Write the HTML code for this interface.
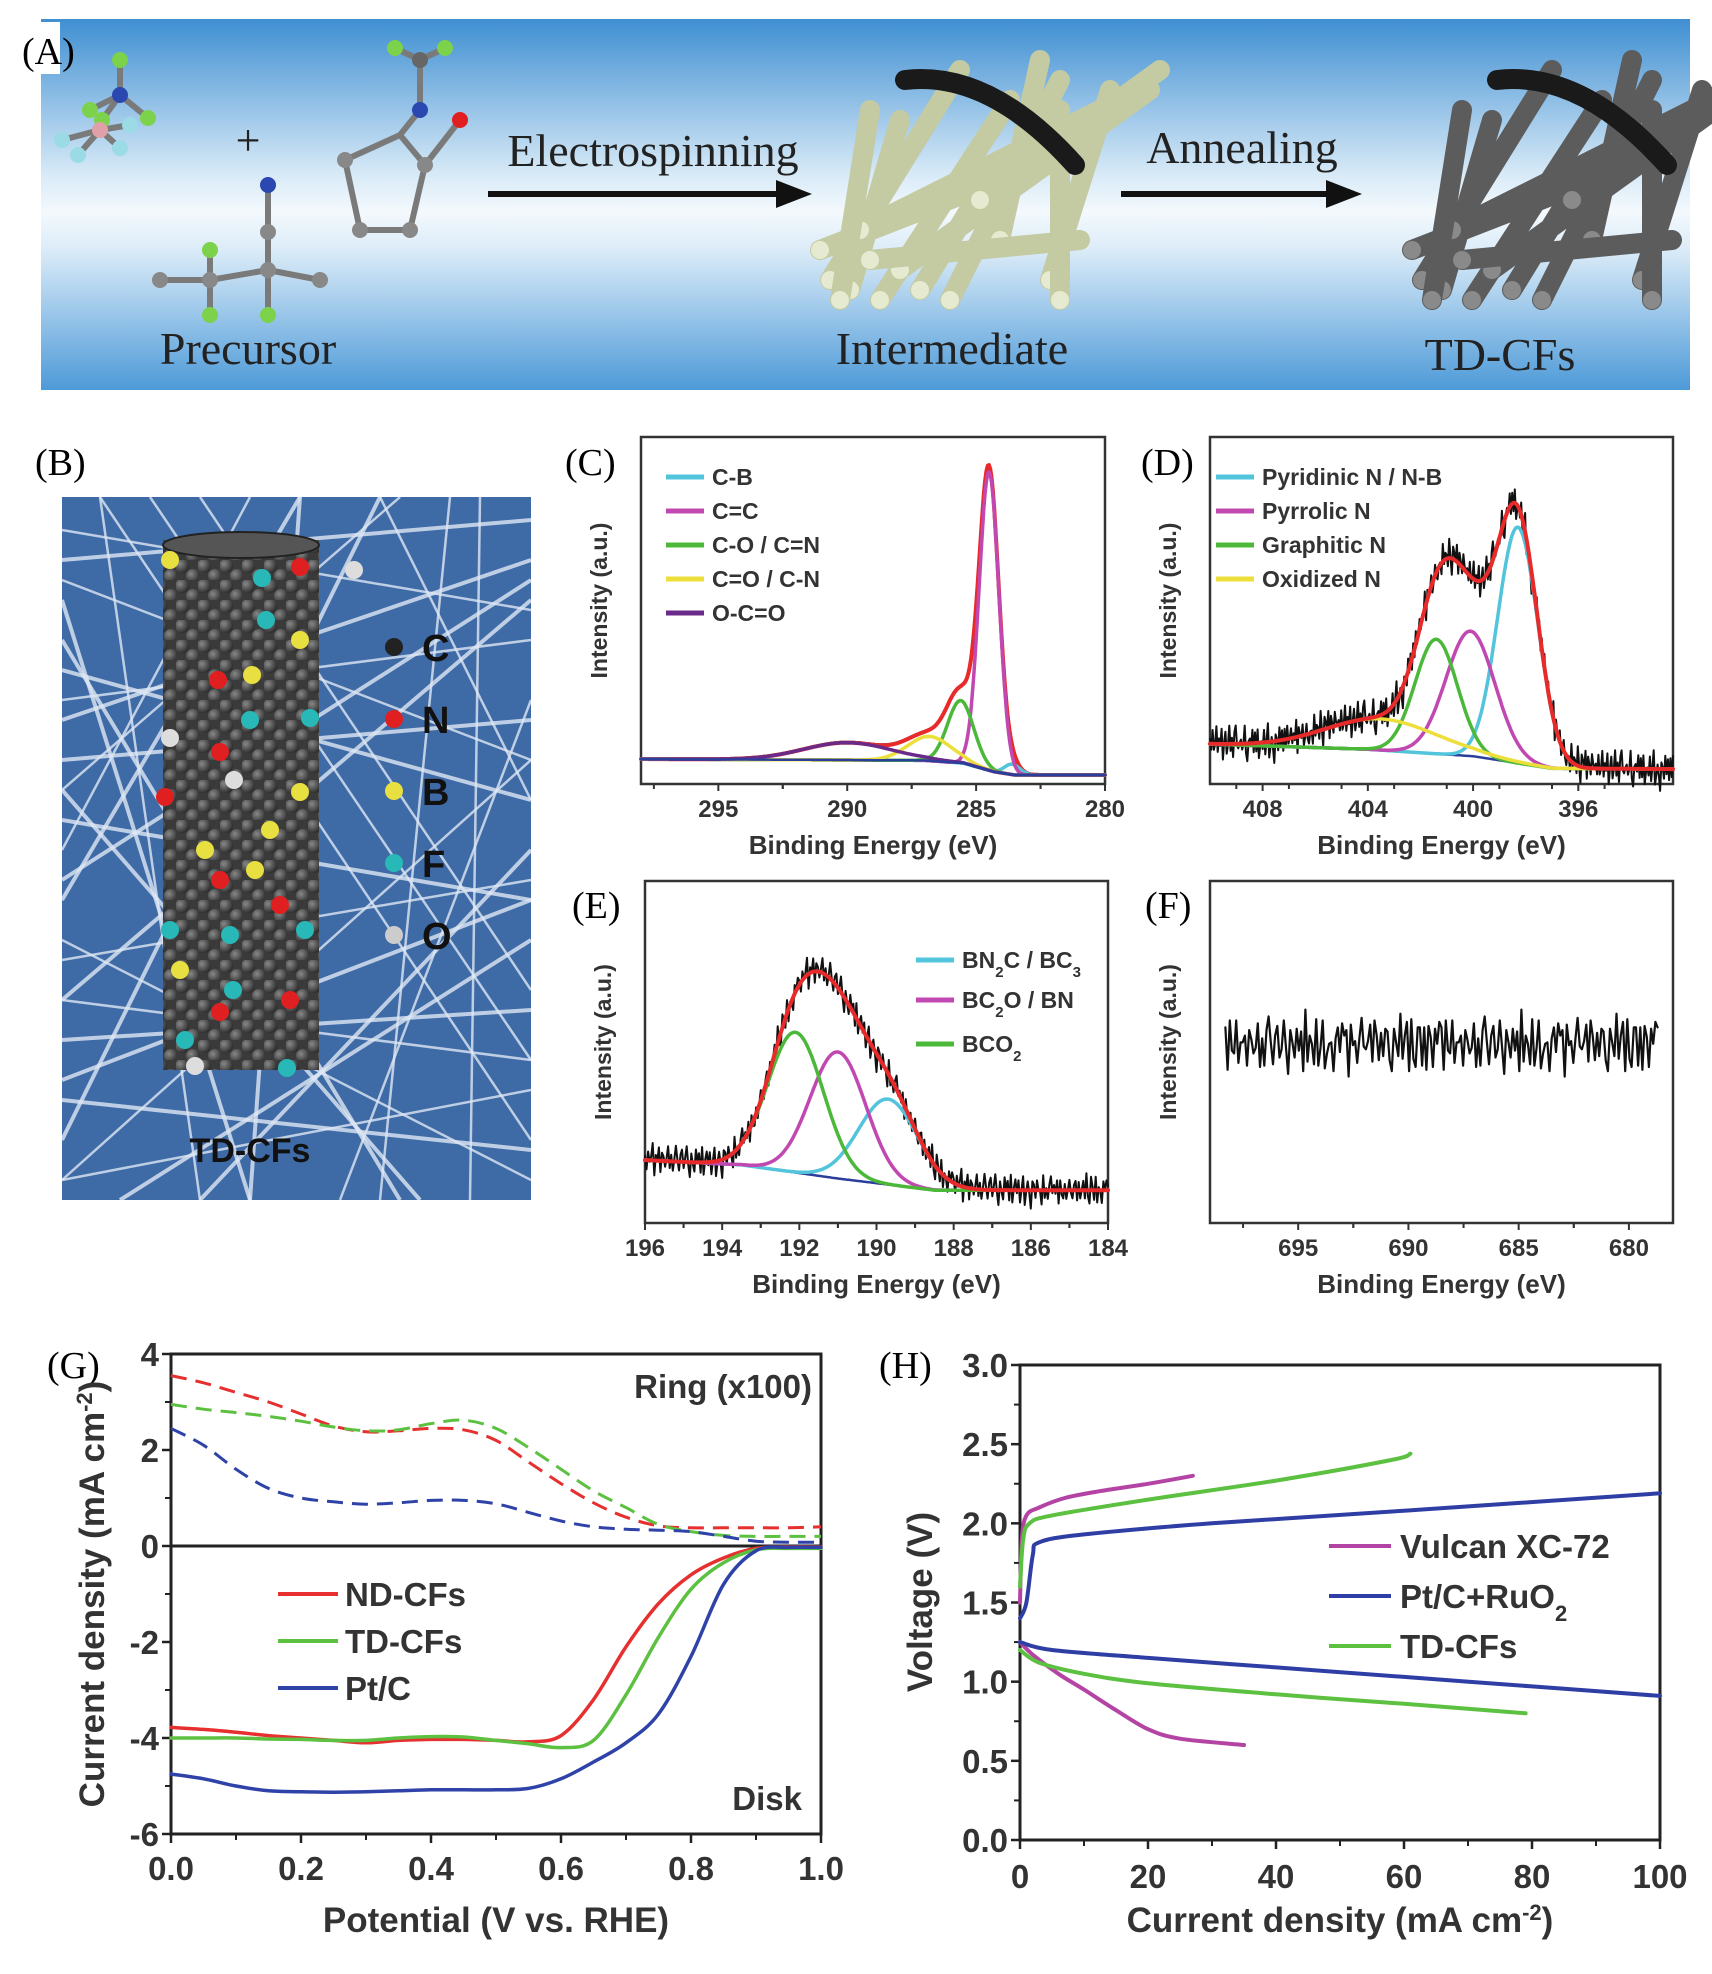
<!DOCTYPE html>
<html><head><meta charset="utf-8"><style>
html,body{margin:0;padding:0;background:#fff;}
body{width:1712px;height:1969px;overflow:hidden;}
svg text{font-family:"Liberation Sans",sans-serif;}
.ser{font-family:"Liberation Serif",serif;}
</style></head><body>
<svg id="fig" width="1712" height="1969" viewBox="0 0 1712 1969" xmlns="http://www.w3.org/2000/svg">
<defs>
<linearGradient id="skyA" x1="0" y1="0" x2="0" y2="1">
<stop offset="0" stop-color="#3f8fd2"/><stop offset="0.42" stop-color="#d8eaf7"/><stop offset="0.52" stop-color="#f4f9fd"/><stop offset="0.62" stop-color="#dcecf8"/><stop offset="1" stop-color="#4d9ad8"/>
</linearGradient>
<radialGradient id="ballC" cx="0.35" cy="0.35" r="0.7"><stop offset="0" stop-color="#888"/><stop offset="1" stop-color="#2a2a2a"/></radialGradient>
<pattern id="atoms" x="0" y="0" width="22" height="20" patternUnits="userSpaceOnUse">
<rect width="22" height="20" fill="#3a3a3a"/><circle cx="6" cy="6" r="7" fill="url(#ballC)"/><circle cx="17" cy="16" r="7" fill="url(#ballC)"/>
</pattern>
</defs>
<g id="panelA">
<rect x="41" y="19" width="1649" height="371" fill="url(#skyA)"/>
<rect x="18" y="22" width="42" height="52" fill="#fff"/>
<text class="ser" x="22" y="64" font-size="38">(A)</text>
<g id="mols"></g>
<text class="ser" x="248" y="364" font-size="46" text-anchor="middle" fill="#222">Precursor</text>
<text class="ser" x="248" y="155" font-size="44" text-anchor="middle" fill="#222">+</text>
<text class="ser" x="653" y="166" font-size="46" text-anchor="middle" fill="#222">Electrospinning</text>
<line x1="488" y1="194" x2="780" y2="194" stroke="#111" stroke-width="6"/>
<polygon points="776,180 812,194 776,208" fill="#111"/>
<g id="fibInt"></g>
<text class="ser" x="952" y="364" font-size="46" text-anchor="middle" fill="#222">Intermediate</text>
<text class="ser" x="1242" y="163" font-size="46" text-anchor="middle" fill="#222">Annealing</text>
<line x1="1121" y1="194" x2="1330" y2="194" stroke="#111" stroke-width="6"/>
<polygon points="1326,180 1362,194 1326,208" fill="#111"/>
<g id="fibTD"></g>
<text class="ser" x="1500" y="370" font-size="46" text-anchor="middle" fill="#222">TD-CFs</text>
</g>
<g id="panelB">
<text class="ser" x="35" y="475" font-size="38">(B)</text>
<clipPath id="clipB"><rect x="62" y="497" width="469" height="703"/></clipPath>
<g clip-path="url(#clipB)">
<rect x="62" y="497" width="469" height="703" fill="#3e6aa6"/>
<g id="mat"></g>
</g>
<rect x="163" y="540" width="156" height="530" fill="url(#atoms)"/>
<ellipse cx="241" cy="545" rx="78" ry="13" fill="#555" stroke="#222" stroke-width="2"/>
<g id="dopants"></g>
<g id="elemLegend"></g>
<text x="250" y="1162" font-size="34" font-weight="bold" text-anchor="middle" fill="#111">TD-CFs</text>
</g>
<g id="charts"></g>
</svg>
<script>
// ===== Panel C data =====
const cTicks=[295,290,285,280];
const cNames=['C-B','C=C','C-O / C=N','C=O / C-N','O-C=O'];
const cCenters=[283.6,284.5,285.6,286.8,290.0];
const cHeights=[3,86,18,7,5];
const cWidths=[0.7,0.9,1.2,2.0,4.0];
const cBgX=[298,287,285.5,284.3,283.5,280];
const cBgY=[7.2,6.8,6.0,3.5,2.6,2.6];
// ===== Panel D data =====
const dTicks=[408,404,400,396];
const dNames=['Pyridinic N / N-B','Pyrrolic N','Graphitic N','Oxidized N'];
const dCenters=[398.3,400.1,401.4,403.5];
const dHeights=[68,36,33,9];
const dWidths=[1.8,2.2,1.9,5.0];
const dBgX=[410,404,400,397,392.4];
const dBgY=[11.5,10,8,4.5,4.3];
// ===== Panel E data =====
const eTicks=[196,194,192,190,188,186,184];
const eCenters=[189.7,191.0,192.1];
const eHeights=[25,37,41];
const eWidths=[1.8,1.7,1.7];
const eBgX=[196,193.5,191,188.5,184];
const eBgY=[18.4,17,13,9.6,9.6];
// ===== Panel F data =====
const fTicks=[695,690,685,680];
const fLevel=52;
// measured noise pattern (shared by raw spectra)
const noise=[0.2,-0.5,0.8,-0.3,0.1,0.9,-0.7,0.4,-0.2,0.6,-0.9,0.3,0.5,-0.4,0.0,0.7,-0.6,0.2,-0.8,0.4,0.9,-0.1,-0.5,0.3,0.6,-0.7,0.1,0.8,-0.3,-0.9,0.5,0.2,-0.4,0.7,-0.2,0.3,-0.6,0.9,-0.8,0.1,0.4,-0.3,0.6,-0.5,0.2,0.8,-0.7,0.0,0.5,-0.2,-0.9,0.7,0.3,-0.4,0.6,-0.1,0.2,-0.8,0.9,-0.3,0.4,-0.6,0.1,0.7,-0.5,0.3,-0.2,0.8,-0.9,0.5,0.0,-0.4,0.6,-0.7,0.2,0.9,-0.1,-0.6,0.4,0.3,-0.8,0.7,-0.3,0.1,0.5,-0.5,0.8,-0.2,-0.7,0.6,0.2,-0.4,0.9,-0.9,0.3,0.1,-0.6,0.7,-0.1,0.4];
// ===== Panel G data =====
const gPotential=[0,0.05,0.1,0.15,0.2,0.25,0.3,0.35,0.4,0.45,0.5,0.55,0.6,0.65,0.7,0.75,0.8,0.85,0.9,0.95,1.0];
const gRingND=[3.55,3.4,3.2,3.0,2.75,2.5,2.38,2.4,2.45,2.42,2.2,1.75,1.3,0.9,0.6,0.42,0.38,0.38,0.38,0.38,0.4];
const gRingTD=[2.95,2.85,2.78,2.7,2.6,2.48,2.4,2.42,2.55,2.62,2.45,2.05,1.6,1.15,0.8,0.45,0.3,0.22,0.2,0.2,0.2];
const gRingPt=[2.45,2.1,1.6,1.2,1.0,0.92,0.87,0.9,0.95,0.95,0.88,0.7,0.52,0.4,0.35,0.33,0.3,0.2,0.1,0.08,0.08];
const gDiskND=[-3.78,-3.82,-3.88,-3.95,-4.0,-4.05,-4.1,-4.05,-4.03,-4.03,-4.05,-4.08,-3.95,-3.2,-2.1,-1.2,-0.6,-0.25,-0.05,-0.02,-0.02];
const gDiskTD=[-4.0,-4.0,-4.0,-4.02,-4.03,-4.05,-4.05,-4.0,-3.97,-3.98,-4.05,-4.12,-4.2,-4.05,-3.1,-1.9,-0.9,-0.35,-0.08,-0.05,-0.05];
const gDiskPt=[-4.75,-4.85,-5.0,-5.1,-5.12,-5.13,-5.12,-5.1,-5.08,-5.08,-5.08,-5.05,-4.85,-4.5,-4.1,-3.5,-2.3,-0.8,-0.1,-0.03,-0.03];
const gXTicks=[0,0.2,0.4,0.6,0.8,1.0];
const gYTicks=[4,2,0,-2,-4,-6];
const gLegend=['ND-CFs','TD-CFs','Pt/C'];
// ===== Panel H data =====
const hVulcanChgI=[0,0.3,1,3,7,12,20,27];
const hVulcanChgV=[1.5,1.9,2.05,2.1,2.16,2.2,2.25,2.3];
const hVulcanDisI=[0,2,6,10,15,20,25,35];
const hVulcanDisV=[1.25,1.17,1.05,0.95,0.82,0.7,0.64,0.6];
const hPtChgI=[0,1,2,3,10,30,60,100];
const hPtChgV=[1.4,1.5,1.8,1.88,1.93,2.0,2.08,2.19];
const hPtDisI=[0,5,20,40,60,80,100];
const hPtDisV=[1.25,1.2,1.15,1.09,1.03,0.97,0.91];
const hTDChgI=[0,0.5,1.5,5,20,40,58,61];
const hTDChgV=[1.6,1.9,2.0,2.05,2.15,2.27,2.4,2.44];
const hTDDisI=[0,3,10,20,40,60,79];
const hTDDisV=[1.2,1.12,1.05,0.99,0.92,0.86,0.8];
const hXTicks=[0,20,40,60,80,100];
const hYTicks=[0.0,0.5,1.0,1.5,2.0,2.5,3.0];

const NS='http://www.w3.org/2000/svg';
const root=document.getElementById('charts');
function mk(tag,attrs,parent){const e=document.createElementNS(NS,tag);for(const k in attrs)e.setAttribute(k,attrs[k]);(parent||root).appendChild(e);return e;}
function txt(s,attrs,parent,name){const e=mk('text',attrs,parent);e.textContent=s;

return e;}
function gauss(x,c,h,w){return h*Math.exp(-4*Math.LN2*(x-c)*(x-c)/(w*w));}
function interp(x,xs,ys){
  for(let i=0;i<xs.length-1;i++){const a=xs[i],b=xs[i+1];if((x<=a&&x>=b)||(x>=a&&x<=b)){const t=(x-a)/(b-a);return ys[i]+t*(ys[i+1]-ys[i]);}}
  return (Math.abs(x-xs[0])<Math.abs(x-xs[xs.length-1]))?ys[0]:ys[ys.length-1];}
function smooth(pts){let d='M'+pts[0][0].toFixed(1)+','+pts[0][1].toFixed(1);
  for(let i=0;i<pts.length-1;i++){const p0=pts[Math.max(0,i-1)],p1=pts[i],p2=pts[i+1],p3=pts[Math.min(pts.length-1,i+2)];
  const c1=[p1[0]+(p2[0]-p0[0])/6,p1[1]+(p2[1]-p0[1])/6],c2=[p2[0]-(p3[0]-p1[0])/6,p2[1]-(p3[1]-p1[1])/6];
  d+=' C'+c1[0].toFixed(1)+','+c1[1].toFixed(1)+' '+c2[0].toFixed(1)+','+c2[1].toFixed(1)+' '+p2[0].toFixed(1)+','+p2[1].toFixed(1);}return d;}
function poly(pts){return 'M'+pts.map(p=>p[0].toFixed(1)+','+p[1].toFixed(1)).join(' L');}

const COL={cyan:'#52c4dc',mag:'#c048b0',green:'#4cb83a',yellow:'#ecdf3c',purple:'#6a2a8a',red:'#e82a2a',blue:'#2c3e9c'};

function xpsFrame(o){
  const g=mk('g',{});
  
  
  const X=e=>o.L+(o.xmin-e)/(o.xmin-o.xmax)*(o.R-o.L);
  const Y=v=>o.B-v/100*(o.B-o.T);
  txt(o.label,{x:o.lx,y:o.ly,'font-size':38,class:'ser'},g,'panel-label');
  const fr=mk('rect',{x:o.L,y:o.T,width:o.R-o.L,height:o.B-o.T,fill:'none',stroke:'#333','stroke-width':2.5},g);
  
  
  o.ticks.forEach(t=>{const x=X(t);
    const tk=mk('line',{x1:x,y1:o.B,x2:x,y2:o.B+7,stroke:'#333','stroke-width':2},g);
    
    
    txt(String(t),{x:x,y:o.B+33,'font-size':24,'font-weight':'bold','text-anchor':'middle',fill:'#333'},g,'x-tick-label');
    const h=x+(X(t+o.step)-x)/2; if(h>o.L&&h<o.R){const m=mk('line',{x1:h,y1:o.B,x2:h,y2:o.B+5,stroke:'#333','stroke-width':2},g);
    
    }
    const h2=x-(X(t+o.step)-x)/2; if(h2>o.L&&h2<o.R){const m=mk('line',{x1:h2,y1:o.B,x2:h2,y2:o.B+5,stroke:'#333','stroke-width':2},g);
    
    }
  });
  txt('Binding Energy (eV)',{x:(o.L+o.R)/2,y:o.B+70,'font-size':26,'font-weight':'bold','text-anchor':'middle',fill:'#333'},g,'x-axis-title');
  txt('Intensity (a.u.)',{x:0,y:0,'font-size':23,'font-weight':'bold','text-anchor':'middle',fill:'#333',transform:'translate('+(o.L-34)+','+((o.T+o.B)/2-10)+') rotate(-90)'},g,'y-axis-title');
  return {g,X,Y};
}
function legendEntry(g,x,y,color,label){
  const l=mk('line',{x1:x,y1:y,x2:x+38,y2:y,stroke:color,'stroke-width':5},g);
  
  
  const t=mk('text',{x:x+46,y:y+8,'font-size':23,'font-weight':'bold',fill:'#333'},g);
  
  
  label.forEach(part=>{const s=mk('tspan',{},t);s.textContent=part[0];if(part[1]){s.setAttribute('baseline-shift','sub');s.setAttribute('font-size','15');}});
}
function drawPath(g,d,color,w,name,extra){
  const p=mk('path',Object.assign({d:d,fill:'none',stroke:color,'stroke-width':w,'stroke-linejoin':'round','stroke-linecap':'round'},extra||{}),g);
  
  
  return p;
}

// ---------- C ----------
(function(){
  const o={name:'panel-c-c1s-xps',label:'(C)',lx:565,ly:475,L:641,R:1105,T:437,B:784,xmin:298,xmax:280,ticks:cTicks,step:-5};
  const f=xpsFrame(o);const N=360;const bgP=[],env=[],comps=cCenters.map(()=>[]);
  for(let i=0;i<=N;i++){const e=o.xmin+(o.xmax-o.xmin)*i/N;const bg=interp(e,cBgX,cBgY);let s=bg;
    cCenters.forEach((c,k)=>{const v=gauss(e,c,cHeights[k],cWidths[k]);s+=v;comps[k].push([f.X(e),f.Y(bg+v)]);});
    bgP.push([f.X(e),f.Y(bg)]);env.push([f.X(e),f.Y(s)]);}
  drawPath(f.g,poly(env.map(p=>[p[0],p[1]-1])),'#111',2,'raw-spectrum');
  drawPath(f.g,poly(env),COL.red,4,'fit-envelope');
  const cc=[COL.cyan,COL.mag,COL.green,COL.yellow,COL.purple];
  comps.forEach((pts,k)=>drawPath(f.g,poly(pts),cc[k],3.5,'component-'+k));
  drawPath(f.g,poly(bgP),COL.blue,2.5,'background');
  cNames.forEach((n,k)=>legendEntry(f.g,666,477+k*34,cc[k],[[n]]));
})();
// ---------- D ----------
(function(){
  const o={name:'panel-d-n1s-xps',label:'(D)',lx:1141,ly:475,L:1210,R:1673,T:437,B:784,xmin:410,xmax:392.4,ticks:dTicks,step:-2};
  const f=xpsFrame(o);const N=360;const bgP=[],env=[],raw=[],comps=dCenters.map(()=>[]);
  for(let i=0;i<=N;i++){const e=o.xmin+(o.xmax-o.xmin)*i/N;const bg=interp(e,dBgX,dBgY);let s=bg;
    dCenters.forEach((c,k)=>{const v=gauss(e,c,dHeights[k],dWidths[k]);s+=v;comps[k].push([f.X(e),f.Y(bg+v)]);});
    bgP.push([f.X(e),f.Y(bg)]);env.push([f.X(e),f.Y(s)]);
    raw.push([f.X(e),f.Y(s+noise[i%noise.length]*5+noise[(i*7)%noise.length]*2)]);}
  drawPath(f.g,poly(raw),'#111',2,'raw-spectrum');
  const cc=[COL.cyan,COL.mag,COL.green,COL.yellow];
  drawPath(f.g,poly(bgP),COL.blue,2.5,'background');
  comps.forEach((pts,k)=>drawPath(f.g,poly(pts),cc[k],3.5,'component-'+k));
  drawPath(f.g,poly(env),COL.red,4,'fit-envelope');
  dNames.forEach((n,k)=>legendEntry(f.g,1216,477+k*34,cc[k],[[n]]));
})();
// ---------- E ----------
(function(){
  const o={name:'panel-e-b1s-xps',label:'(E)',lx:572,ly:918,L:645,R:1108,T:881,B:1223,xmin:196,xmax:184,ticks:eTicks,step:-2};
  const f=xpsFrame(o);const N=300;const bgP=[],env=[],raw=[],comps=eCenters.map(()=>[]);
  for(let i=0;i<=N;i++){const e=o.xmin+(o.xmax-o.xmin)*i/N;const bg=interp(e,eBgX,eBgY);let s=bg;
    eCenters.forEach((c,k)=>{const v=gauss(e,c,eHeights[k],eWidths[k]);s+=v;comps[k].push([f.X(e),f.Y(bg+v)]);});
    bgP.push([f.X(e),f.Y(bg)]);env.push([f.X(e),f.Y(s)]);
    raw.push([f.X(e),f.Y(s+noise[i%noise.length]*4.5+noise[(i*3)%noise.length]*1.5)]);}
  drawPath(f.g,poly(raw),'#111',2,'raw-spectrum');
  drawPath(f.g,poly(bgP),COL.blue,2.5,'background');
  const cc=[COL.cyan,COL.mag,COL.green];
  comps.forEach((pts,k)=>drawPath(f.g,poly(pts),cc[k],3.5,'component-'+k));
  drawPath(f.g,poly(env),COL.red,4,'fit-envelope');
  legendEntry(f.g,916,960,cc[0],[['BN'],['2',1],['C / BC'],['3',1]]);
  legendEntry(f.g,916,1000,cc[1],[['BC'],['2',1],['O / BN']]);
  legendEntry(f.g,916,1044,cc[2],[['BCO'],['2',1]]);
})();
// ---------- F ----------
(function(){
  const o={name:'panel-f-f1s-xps',label:'(F)',lx:1145,ly:918,L:1210,R:1673,T:881,B:1223,xmin:699,xmax:678,ticks:fTicks,step:-5};
  const f=xpsFrame(o);const raw=[];const N=200;
  for(let i=0;i<=N;i++){const e=698.3+(678.7-698.3)*i/N;
    raw.push([f.X(e),f.Y(fLevel+noise[i%noise.length]*8+noise[(i*13+5)%noise.length]*4)]);}
  drawPath(f.g,poly(raw),'#111',2.2,'raw-spectrum');
})();
// ---------- G ----------
(function(){
  const g=mk('g',{});
  
  
  const L=171,R=821,T=1354,B=1834;
  const X=v=>L+v*(R-L),Y=v=>T+(4-v)/10*(B-T);
  txt('(G)',{x:47,y:1378,'font-size':38,class:'ser'},g,'panel-label-g');
  const fr=mk('rect',{x:L,y:T,width:R-L,height:B-T,fill:'none',stroke:'#222','stroke-width':3},g);
  
  
  const z=mk('line',{x1:L,y1:Y(0),x2:R,y2:Y(0),stroke:'#222','stroke-width':3},g);
  
  
  gXTicks.forEach(t=>{const tk=mk('line',{x1:X(t),y1:B,x2:X(t),y2:B+9,stroke:'#222','stroke-width':2.5},g);
    
    
    if(t<1){const m=mk('line',{x1:X(t+0.1),y1:B,x2:X(t+0.1),y2:B+6,stroke:'#222','stroke-width':2},g);
    
    }
    txt(t.toFixed(1),{x:X(t),y:B+46,'font-size':33,'font-weight':'bold','text-anchor':'middle',fill:'#333'},g,'x-tick-label');});
  gYTicks.forEach(t=>{const tk=mk('line',{x1:L-9,y1:Y(t),x2:L,y2:Y(t),stroke:'#222','stroke-width':2.5},g);
    
    
    if(t>-6){const m=mk('line',{x1:L-6,y1:Y(t-1),x2:L,y2:Y(t-1),stroke:'#222','stroke-width':2},g);
    
    }
    txt(String(t),{x:L-12,y:Y(t)+12,'font-size':33,'font-weight':'bold','text-anchor':'end',fill:'#333'},g,'y-tick-label');});
  txt('Potential (V vs. RHE)',{x:(L+R)/2,y:1932,'font-size':35,'font-weight':'bold','text-anchor':'middle',fill:'#333'},g,'x-axis-title');
  const yt=txt('',{x:0,y:0,'font-size':35,'font-weight':'bold','text-anchor':'middle',fill:'#333',transform:'translate(104,1594) rotate(-90)'},g,'y-axis-title');
  const a=mk('tspan',{},yt);a.textContent='Current density (mA cm';
  const b=mk('tspan',{'baseline-shift':'super','font-size':22},yt);b.textContent='-2';
  const c=mk('tspan',{},yt);c.textContent=')';
  txt('Ring (x100)',{x:812,y:1398,'font-size':33,'font-weight':'bold','text-anchor':'end',fill:'#333'},g,'ring-label');
  txt('Disk',{x:802,y:1810,'font-size':33,'font-weight':'bold','text-anchor':'end',fill:'#333'},g,'disk-label');
  const cols=['#e63030','#5cc040','#2e42a8'];
  [gRingND,gRingTD,gRingPt].forEach((s,k)=>drawPath(g,smooth(gPotential.map((p,i)=>[X(p),Y(s[i])])),cols[k],3,'ring-curve-'+k,{'stroke-dasharray':'16,9','stroke-linecap':'butt'}));
  [gDiskND,gDiskTD,gDiskPt].forEach((s,k)=>drawPath(g,smooth(gPotential.map((p,i)=>[X(p),Y(s[i])])),cols[k],3.5,'disk-curve-'+k));
  gLegend.forEach((n,k)=>{const l=mk('line',{x1:278,y1:1594+k*47,x2:338,y2:1594+k*47,stroke:cols[k],'stroke-width':4},g);
    
    
    txt(n,{x:345,y:1606+k*47,'font-size':33,'font-weight':'bold',fill:'#333'},g,'legend-label');});
})();
// ---------- H ----------
(function(){
  const g=mk('g',{});
  
  
  const L=1020,R=1660,T=1365,B=1840;
  const X=v=>L+v/100*(R-L),Y=v=>B-v/3*(B-T);
  txt('(H)',{x:879,y:1378,'font-size':38,class:'ser'},g,'panel-label-h');
  const fr=mk('rect',{x:L,y:T,width:R-L,height:B-T,fill:'none',stroke:'#222','stroke-width':3},g);
  
  
  hXTicks.forEach(t=>{const tk=mk('line',{x1:X(t),y1:B,x2:X(t),y2:B+9,stroke:'#222','stroke-width':2.5},g);
    
    
    if(t<100){const m=mk('line',{x1:X(t+10),y1:B,x2:X(t+10),y2:B+6,stroke:'#222','stroke-width':2},g);
    
    }
    txt(String(t),{x:X(t),y:B+48,'font-size':33,'font-weight':'bold','text-anchor':'middle',fill:'#333'},g,'x-tick-label');});
  hYTicks.forEach(t=>{const tk=mk('line',{x1:L-9,y1:Y(t),x2:L,y2:Y(t),stroke:'#222','stroke-width':2.5},g);
    
    
    if(t<3){const m=mk('line',{x1:L-6,y1:Y(t+0.25),x2:L,y2:Y(t+0.25),stroke:'#222','stroke-width':2},g);
    
    }
    txt(t.toFixed(1),{x:L-12,y:Y(t)+12,'font-size':33,'font-weight':'bold','text-anchor':'end',fill:'#333'},g,'y-tick-label');});
  const xt=txt('',{x:1340,y:1932,'font-size':35,'font-weight':'bold','text-anchor':'middle',fill:'#333'},g,'x-axis-title');
  const a=mk('tspan',{},xt);a.textContent='Current density (mA cm';
  const b=mk('tspan',{'baseline-shift':'super','font-size':22},xt);b.textContent='-2';
  const c=mk('tspan',{},xt);c.textContent=')';
  txt('Voltage (V)',{x:0,y:0,'font-size':35,'font-weight':'bold','text-anchor':'middle',fill:'#333',transform:'translate(932,1602) rotate(-90)'},g,'y-axis-title');
  const cols=['#b444a4','#2e3ea4','#5cc040'];
  [[hVulcanChgI,hVulcanChgV,0],[hVulcanDisI,hVulcanDisV,0],[hPtChgI,hPtChgV,1],[hPtDisI,hPtDisV,1],[hTDChgI,hTDChgV,2],[hTDDisI,hTDDisV,2]].forEach((s,k)=>
    drawPath(g,smooth(s[0].map((v,i)=>[X(v),Y(s[1][i])])),cols[s[2]],4,'polarization-curve-'+k));
  const names=[[['Vulcan XC-72']],[['Pt/C+RuO'],['2',1]],[['TD-CFs']]];
  names.forEach((n,k)=>{const y=1546+k*50;const l=mk('line',{x1:1329,y1:y,x2:1391,y2:y,stroke:cols[k],'stroke-width':4},g);
    
    
    const t=mk('text',{x:1400,y:y+12,'font-size':33,'font-weight':'bold',fill:'#333'},g);
    
    
    n.forEach(p=>{const s=mk('tspan',{},t);s.textContent=p[0];if(p[1]){s.setAttribute('baseline-shift','sub');s.setAttribute('font-size','22');}});});
})();

// ---------- Schematic decorations ----------
(function(){
  const fibers=[[830,280,960,70],[850,290,900,120],[880,300,1010,100],[820,250,1000,180],[900,270,1150,90],[950,300,1060,80],[1000,240,1040,60],[860,230,1120,100],[920,290,1000,160],[1050,280,1110,90],[980,200,1160,70],[840,300,870,110],[1060,300,1060,110],[870,260,1080,240]];
  [['fibInt',0,'#c4caa2','#e6ead0'],['fibTD',592,'#5c5c5c','#8a8a8a']].forEach(cfg=>{
    const grp=document.getElementById(cfg[0]);
    fibers.forEach(f=>{const l=mk('line',{x1:f[0]+cfg[1],y1:f[1],x2:f[2]+cfg[1],y2:f[3],stroke:cfg[2],'stroke-width':20,'stroke-linecap':'round'},grp);
      
      
      const e=mk('circle',{cx:f[0]+cfg[1],cy:f[1],r:9,fill:cfg[3]},grp);
      
      });
    const bk=mk('path',{d:'M'+(905+cfg[1])+',80 Q'+(990+cfg[1])+',70 '+(1075+cfg[1])+',165',stroke:'#1a1a1a','stroke-width':20,fill:'none','stroke-linecap':'round'},grp);
    
    
  });
  const mol=document.getElementById('mols');
  const bonds=[[120,60,120,95],[120,95,90,110],[120,95,148,118],[120,95,102,120],[62,140,100,130],[100,130,130,125],[100,130,78,155],[100,130,120,148],[420,60,420,110],[420,110,400,135],[400,135,345,160],[345,160,360,230],[360,230,410,230],[410,230,425,165],[425,165,400,135],[425,165,460,120],[268,185,268,270],[268,270,210,280],[210,280,160,280],[268,270,320,280],[210,280,210,250],[210,280,210,315],[268,270,268,315],[420,60,395,48],[420,60,445,48]];
  bonds.forEach(b=>{const l=mk('line',{x1:b[0],y1:b[1],x2:b[2],y2:b[3],stroke:'#7a7a7a','stroke-width':6},mol);
    
    });
  const atoms=[[120,60,'#7cd24a'],[120,95,'#2a48b0'],[90,110,'#7cd24a'],[148,118,'#7cd24a'],[102,120,'#7cd24a'],[62,140,'#9adbe6'],[100,130,'#e0a0a8'],[130,125,'#9adbe6'],[78,155,'#9adbe6'],[120,148,'#9adbe6'],[420,110,'#2a48b0'],[460,120,'#e02020'],[420,60,'#666'],[395,48,'#7cd24a'],[445,48,'#7cd24a'],[268,185,'#2a48b0'],[268,232,'#888'],[210,280,'#888'],[268,270,'#888'],[160,280,'#888'],[320,280,'#888'],[210,250,'#7cd24a'],[210,315,'#7cd24a'],[268,315,'#7cd24a'],[345,160,'#888'],[360,230,'#888'],[410,230,'#888'],[425,165,'#888']];
  atoms.forEach(a=>{const c=mk('circle',{cx:a[0],cy:a[1],r:8,fill:a[2]},mol);
    
    });
  const mat=document.getElementById('mat');
  const segs=[[62,560,531,520],[62,700,531,640],[62,820,531,900],[62,960,531,880],[62,1100,531,1150],[100,497,200,1200],[300,497,250,1200],[450,497,380,1200],[531,600,62,1000],[531,760,62,1180],[62,640,400,1200],[150,497,531,1060],[62,900,300,497],[531,990,200,497],[62,1040,531,1010],[380,497,531,800],[62,760,531,720],[480,497,470,1200],[62,600,250,1200],[531,1140,100,497],[62,880,531,580],[62,1180,531,1090],[200,1200,531,850],[62,530,531,610],[62,670,531,800],[62,790,400,497],[120,1200,531,940],[62,1000,531,1060],[62,1140,380,497],[340,1200,531,700],[62,720,531,560],[250,497,62,850],[531,900,62,1080],[62,580,531,760],[420,1200,62,790],[531,1180,62,940]];
  segs.forEach((s,i)=>{const l=mk('line',{x1:s[0],y1:s[1],x2:s[2],y2:s[3],stroke:'#dfe8f4','stroke-width':i%2?2.5:4,opacity:0.8},mat);
    
    });
  const dop=document.getElementById('dopants');
  const dd=[[170,560,'#e8e040'],[262,578,'#28b8b8'],[300,567,'#e02020'],[354,570,'#ddd'],[266,620,'#28b8b8'],[300,640,'#e8e040'],[218,680,'#e02020'],[252,675,'#e8e040'],[250,720,'#28b8b8'],[310,718,'#28b8b8'],[170,738,'#ddd'],[220,752,'#e02020'],[234,780,'#ddd'],[165,797,'#e02020'],[300,792,'#e8e040'],[270,830,'#e8e040'],[205,850,'#e8e040'],[255,870,'#e8e040'],[220,880,'#e02020'],[280,905,'#e02020'],[170,930,'#28b8b8'],[230,935,'#28b8b8'],[305,930,'#28b8b8'],[180,970,'#e8e040'],[233,990,'#28b8b8'],[220,1012,'#e02020'],[290,1000,'#e02020'],[185,1040,'#28b8b8'],[195,1066,'#ddd'],[287,1068,'#28b8b8']];
  dd.forEach(a=>{const c=mk('circle',{cx:a[0],cy:a[1],r:9,fill:a[2]},dop);
    
    });
  const leg=document.getElementById('elemLegend');
  [['C','#222'],['N','#e02020'],['B','#e8e040'],['F','#28b8b8'],['O','#ccc']].forEach((e,k)=>{const y=647+k*72;
    const c=mk('circle',{cx:394,cy:y,r:9,fill:e[1]},leg);
    
    
    txt(e[0],{x:422,y:y+14,'font-size':38,'font-weight':'bold',fill:'#111'},leg,'element-label');});
})();
</script>
</body></html>
